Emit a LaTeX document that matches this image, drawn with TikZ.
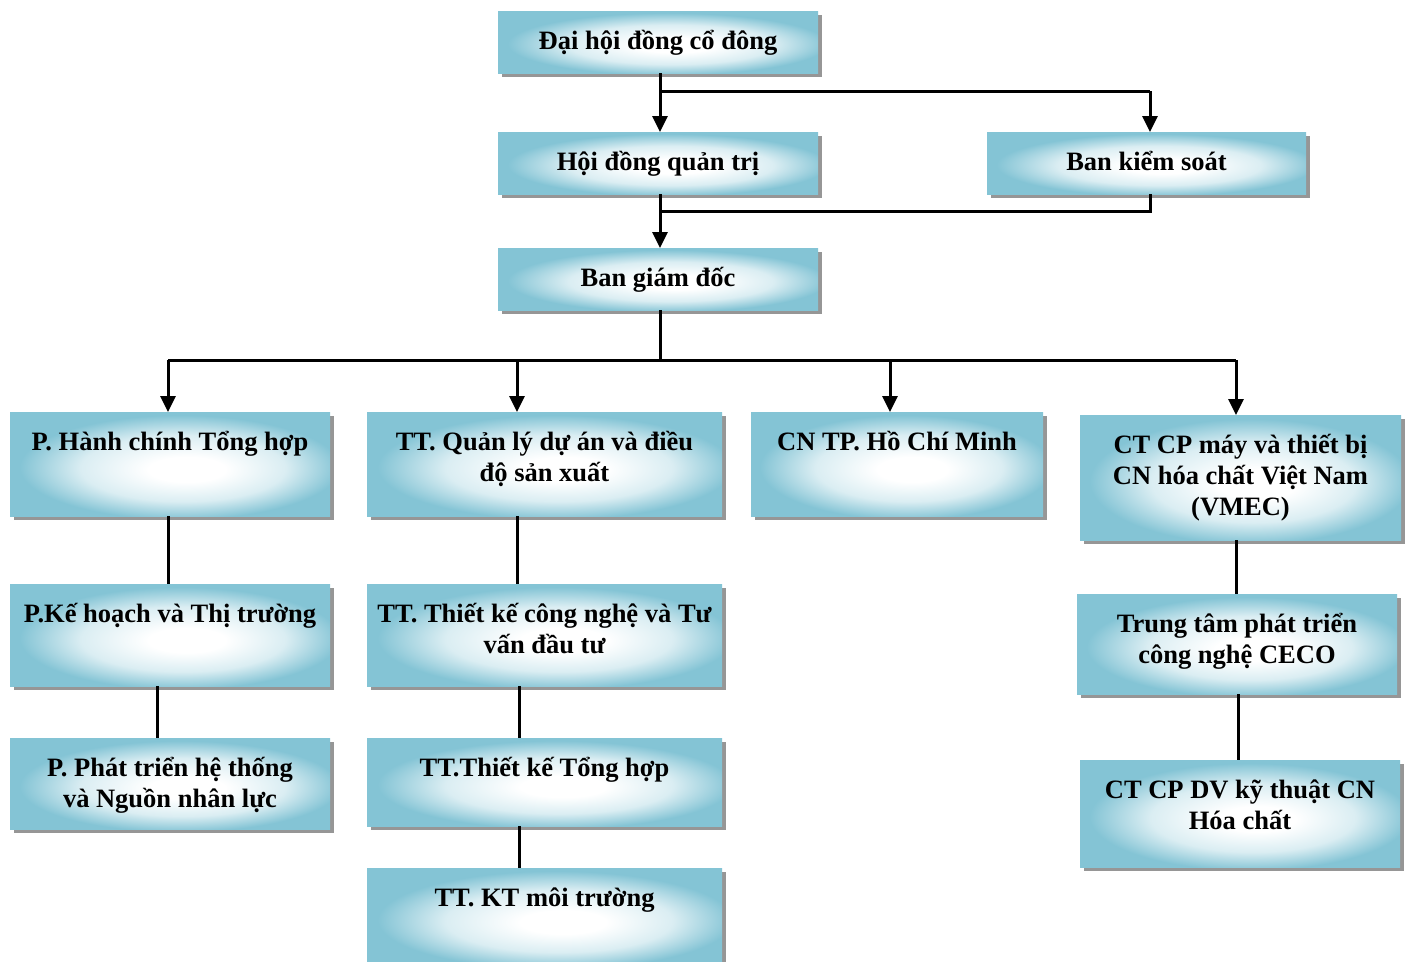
\documentclass[tikz,border=0pt]{standalone}
\usepackage{fontspec}
\setmainfont{Liberation Serif}
\usetikzlibrary{arrows.meta}
\definecolor{boxblue}{RGB}{132,196,213}
\definecolor{shadowgray}{RGB}{150,150,150}
\pgfdeclareradialshading{glossy}{\pgfpoint{3bp}{-3bp}}{%
  color(0bp)=(white); color(6bp)=(white); color(16bp)=(white!70!boxblue);
  color(25bp)=(boxblue); color(50bp)=(boxblue)}
\tikzset{
  boxnode/.style={rectangle, inner sep=0pt, outer sep=0pt, anchor=north west,
    shading=glossy},
  boxtext/.style={anchor=base, inner sep=0pt, align=center,
    font=\fontsize{26.5}{31}\selectfont\bfseries},
  conn/.style={line width=3pt, black},
  arr/.style={conn, -{Triangle[length=16pt,width=15pt]}}
}
% #1 name, #2-#5 corners, #6 text, #7 number of lines
\newcommand\orgbox[7]{%
  \fill[shadowgray] (#2+4,#3+4) rectangle (#4+4,#5+4);
  \node[boxnode, minimum width={(#4-#2)*1pt}, minimum height={(#5-#3)*1pt}] (#1) at (#2,#3) {};
  \node[boxtext] (#1t) at ({(#2+#4)/2},{#3+38+(#7-1)*31}) {#6};
}
\begin{document}
\begin{tikzpicture}[x=1pt,y=-1pt]
\useasboundingbox (0,0) rectangle (1408,961);
\fill[white] (0,0) rectangle (1408,961);
\clip (0,0) rectangle (1408,961);
% boxes
\orgbox{b1}{498}{11}{818}{73}{Đại hội đồng cổ đông}{1}
\orgbox{b2}{498}{132}{818}{194}{Hội đồng quản trị}{1}
\orgbox{b3}{987}{132}{1306}{194}{Ban kiểm soát}{1}
\orgbox{b4}{498}{248}{818}{310}{Ban giám đốc}{1}
\orgbox{b5}{10}{412}{330}{516}{P. Hành chính Tổng hợp}{1}
\orgbox{b6}{367}{412}{722}{516}{TT. Quản lý dự án và điều\\độ sản xuất}{2}
\orgbox{b7}{751}{412}{1043}{516}{CN TP. Hồ Chí Minh}{1}
\orgbox{b8}{1080}{415}{1401}{540}{CT CP máy và thiết bị\\CN hóa chất Việt Nam\\(VMEC)}{3}
\orgbox{b9}{10}{584}{330}{686}{P.Kế hoạch và Thị trường}{1}
\orgbox{b10}{367}{584}{722}{686}{TT. Thiết kế công nghệ và Tư\\vấn đầu tư}{2}
\orgbox{b11}{1077}{594}{1397}{694}{Trung tâm phát triển\\công nghệ CECO}{2}
\orgbox{b12}{10}{738}{330}{829}{P. Phát triển hệ thống\\và Nguồn nhân lực}{2}
\orgbox{b13}{367}{738}{722}{826}{TT.Thiết kế Tổng hợp}{1}
\orgbox{b14}{1080}{760}{1400}{867}{CT CP DV kỹ thuật CN\\Hóa chất}{2}
\orgbox{b15}{367}{868}{722}{966}{TT. KT môi trường}{1}
% coordinates
\coordinate (xm) at (660,91);
\coordinate (xk) at (1150,91);
\coordinate (jr) at (1150,211);
\coordinate (jm) at (660,211);
\coordinate (bus) at (660,360);
\coordinate (x5) at (168,360);
\coordinate (x6) at (517,360);
\coordinate (x7) at (890,360);
\coordinate (x8) at (1236,360);
\coordinate (x9) at (157,0);
\coordinate (x10) at (519,0);
\coordinate (x11) at (1238,0);
% top connectors
\draw[arr] (xm |- b1.south) -- (xm |- b2.north);
\draw[conn] (xm) -- (xk);
\draw[arr] (xk) -- (xk |- b3.north);
\draw[arr] (xm |- b2.south) -- (xm |- b4.north);
\draw[conn] (jr |- b3.south) -- (jr) -- (jm);
\draw[conn] (xm |- b4.south) -- (bus);
\draw[conn] (x5) -- (x8);
\draw[arr] (x5) -- (x5 |- b5.north);
\draw[arr] (x6) -- (x6 |- b6.north);
\draw[arr] (x7) -- (x7 |- b7.north);
\draw[arr] (x8) -- (x8 |- b8.north);
% columns
\draw[conn] (x5 |- b5.south) -- (x5 |- b9.north);
\draw[conn] (x9 |- b9.south) -- (x9 |- b12.north);
\draw[conn] (x6 |- b6.south) -- (x6 |- b10.north);
\draw[conn] (x10 |- b10.south) -- (x10 |- b13.north);
\draw[conn] (x10 |- b13.south) -- (x10 |- b15.north);
\draw[conn] (x8 |- b8.south) -- (x8 |- b11.north);
\draw[conn] (x11 |- b11.south) -- (x11 |- b14.north);
\end{tikzpicture}
\end{document}
